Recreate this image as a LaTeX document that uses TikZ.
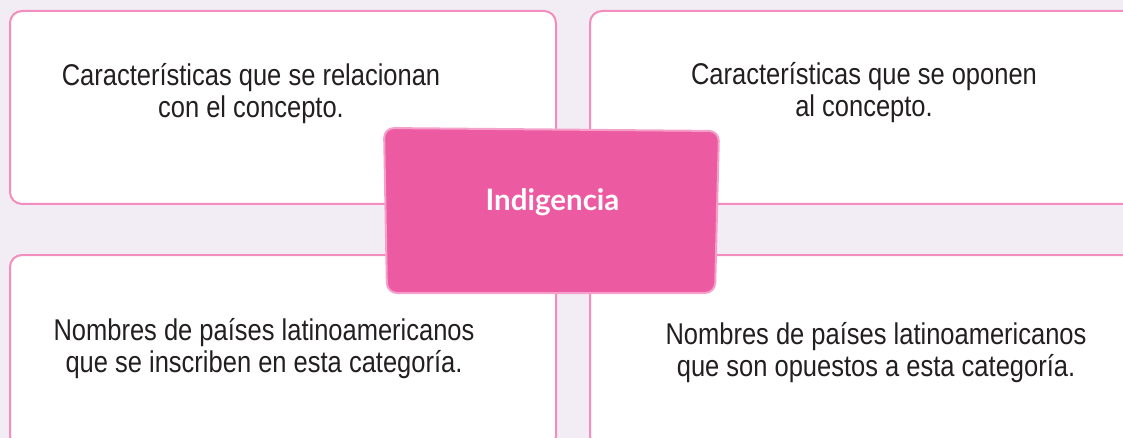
\documentclass[tikz,border=0pt]{standalone}
\usepackage{fontspec}
\setmainfont[FakeStretch=0.85]{Liberation Sans}
\newfontfamily\hubfont{Lato}
\usepackage{tikz}
\usetikzlibrary{positioning}
\definecolor{lila}{RGB}{242,236,244}
\definecolor{rosa}{RGB}{242,141,190}
\definecolor{fucsia}{RGB}{236,91,161}
\definecolor{rosaclaro}{RGB}{245,160,202}
\definecolor{tinta}{RGB}{35,31,32}
\tikzset{
  cell/.style   ={rectangle, rounded corners=12pt, draw=rosa, line width=2pt, fill=white,
                  minimum width=546pt, minimum height=193pt, inner sep=0pt},
  celltxt/.style={align=center, text=tinta, inner sep=0pt,
                  font=\fontsize{30}{32}\selectfont},
  hub/.style    ={rounded corners=10pt, draw=rosaclaro, line width=2pt, fill=fucsia},
  hubtxt/.style ={text=white, inner sep=0pt, font=\hubfont\bfseries\fontsize{29.5}{34}\selectfont},
}

\begin{document}
\begin{tikzpicture}[x=1pt, y=-1pt]
\fill[lila] (0,0) rectangle (1123,438);
\useasboundingbox (0,0) rectangle (1123,438);
\clip (0,0) rectangle (1123,438);
\node[cell] (rel) at (283,107.5) {};
\node[cell] (opo) at (863,107.5) {};
\node[cell] (ins) at (283,351.5) {};
\node[cell] (opu) at (863,351.5) {};
\node[celltxt] (rel-t) at (251,94)    {Características que se relacionan\\con el concepto.};
\node[celltxt] (opo-t) at (864,92.5)  {Características que se oponen\\al concepto.};
\node[celltxt] (ins-t) at (264,348.5) {Nombres de países latinoamericanos\\que se inscriben en esta categoría.};
\node[celltxt] (opu-t) at (876,352.5) {Nombres de países latinoamericanos\\que son opuestos a esta categoría.};
\coordinate (h1) at (384,128);
\coordinate (h2) at (719,131);
\coordinate (h3) at (715,293);
\coordinate (h4) at (387,293);
\draw[hub] (h1) -- (h2) -- (h3) -- (h4) -- cycle;
\node[hubtxt, anchor=base] (hub-t) at (552.5,211) {Indigencia};
\end{tikzpicture}
\end{document}
